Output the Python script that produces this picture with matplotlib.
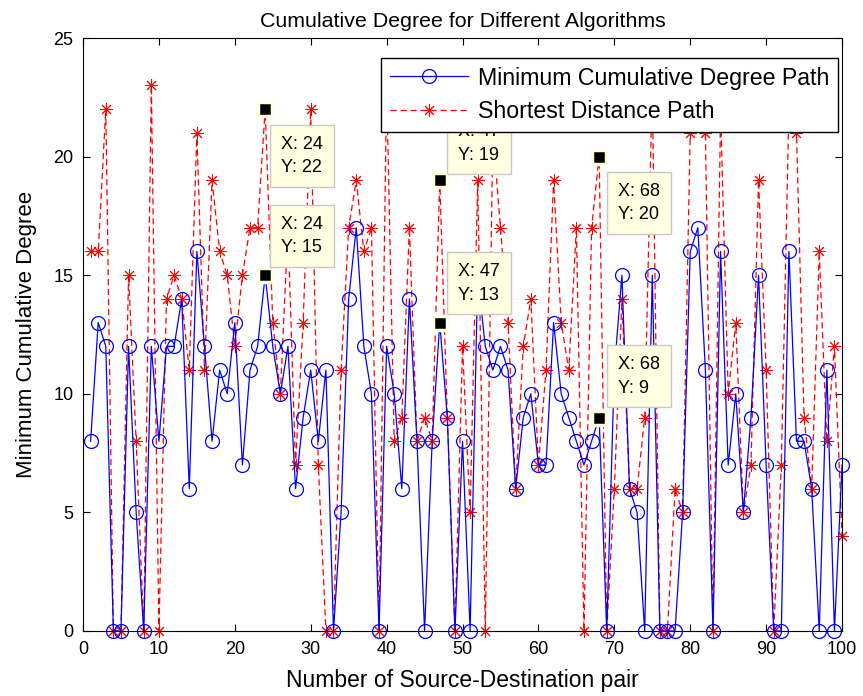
import numpy as np
import matplotlib
matplotlib.use("Agg")
import matplotlib.pyplot as plt

plt.rcParams['font.family'] = ['Liberation Sans', 'DejaVu Sans']

pairs = list(range(1, 101))

min_cum_degree = [8, 13, 12, 0, 0, 12, 5, 0, 12, 8,
                  12, 12, 14, 6, 16, 12, 8, 11, 10, 13,
                  7, 11, 12, 15, 12, 10, 12, 6, 9, 11,
                  8, 11, 0, 5, 14, 17, 12, 10, 0, 12,
                  10, 6, 14, 8, 0, 8, 13, 9, 0, 8,
                  0, 15, 12, 11, 12, 11, 6, 9, 10, 7,
                  7, 13, 10, 9, 8, 7, 8, 9, 0, 11,
                  15, 6, 5, 0, 15, 0, 0, 0, 5, 16,
                  17, 11, 0, 16, 7, 10, 5, 9, 15, 7,
                  0, 0, 16, 8, 8, 6, 0, 11, 0, 7]

shortest_dist = [16, 16, 22, 0, 0, 15, 8, 0, 23, 0,
                 14, 15, 14, 11, 21, 11, 19, 16, 15, 12,
                 15, 17, 17, 22, 13, 10, 17, 7, 13, 22,
                 7, 0, 0, 11, 17, 19, 16, 17, 0, 23,
                 8, 9, 17, 8, 9, 8, 19, 9, 0, 12,
                 5, 19, 0, 21, 17, 13, 6, 12, 14, 7,
                 11, 19, 13, 11, 17, 0, 17, 20, 0, 6,
                 14, 6, 6, 9, 23, 0, 0, 6, 5, 21,
                 23, 21, 0, 22, 10, 13, 5, 7, 19, 11,
                 0, 7, 22, 21, 9, 6, 16, 8, 12, 4]

# data tips: (x, y, text left, text top)
tips = [(24, 22, 26.1, 20.87), (24, 15, 26.1, 17.5),
        (47, 19, 49.4, 21.41), (47, 13, 49.4, 15.51),
        (68, 20, 70.5, 18.89), (68, 9, 70.5, 11.59)]

fig = plt.figure(figsize=(8.63, 6.96), dpi=100)
ax = fig.add_axes([0.0962, 0.0934, 0.8795, 0.852])

ax.plot(pairs, min_cum_degree, '-', color='b', lw=0.9, marker='o',
        ms=10, mfc='none', mec='b', mew=0.9, label='Minimum Cumulative Degree Path',
        zorder=3, clip_on=False)
ax.plot(pairs, shortest_dist, color='r', lw=0.9, ls=(0, (5, 3)), marker=(8, 2, 0),
        ms=9, mec='r', mew=0.7, label='Shortest Distance Path', zorder=2, clip_on=False)

for x, y, tx, ty in tips:
    ax.plot(x, y, 's', color='k', ms=10.5, mec='#ffffe1', mew=2.5, zorder=4, clip_on=False)
    ax.text(tx, ty, f'X: {x}\nY: {y}', ha='left', va='top', fontsize=13,
            linespacing=1.5, zorder=5,
            bbox=dict(boxstyle='square,pad=0.6', fc='#ffffe1', ec='#c8c8c8', lw=1))

ax.set_xlim(0, 100)
ax.set_ylim(0, 25)
ax.set_xticks(range(0, 101, 10))
ax.set_yticks(range(0, 26, 5))
ax.tick_params(direction='in', top=True, right=True, labelsize=13, length=5, width=0.8, pad=7)
for s in ax.spines.values():
    s.set_linewidth(0.8)

ax.set_title('Cumulative Degree for Different Algorithms', fontsize=15.4, pad=8)
ax.set_xlabel('Number of Source-Destination pair', fontsize=16.5, labelpad=8)
ax.set_ylabel('Minimum Cumulative Degree', fontsize=16, labelpad=12)

leg = ax.legend(loc='upper right', bbox_to_anchor=(0.9947, 0.9663), borderaxespad=0,
                fontsize=16.7, handlelength=3.35, handletextpad=0.45, numpoints=1,
                fancybox=False, edgecolor='k', framealpha=1, borderpad=0.37,
                labelspacing=0.45)
leg.get_frame().set_linewidth(1)
leg.set_zorder(10)

fig.savefig('out.png', dpi=100)
